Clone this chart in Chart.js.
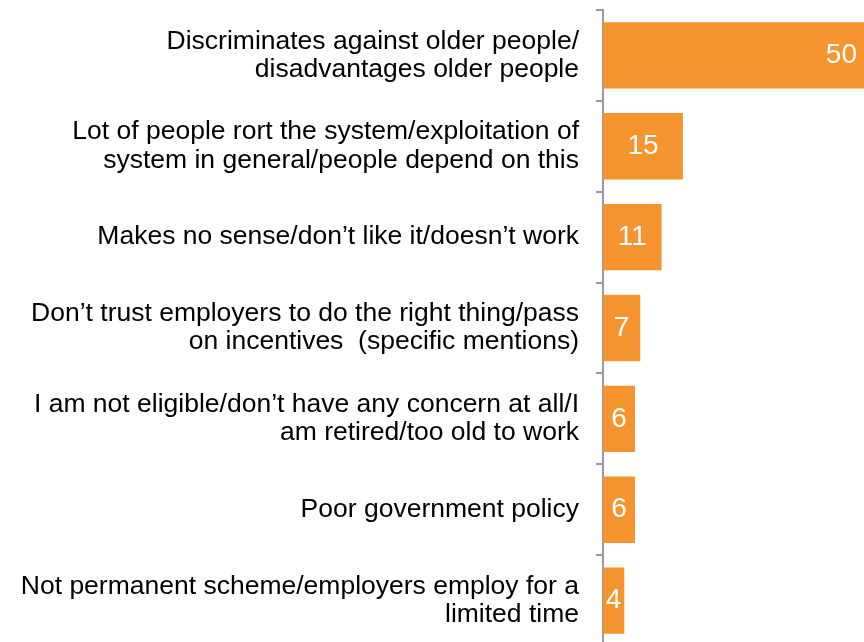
<!DOCTYPE html>
<html>
<head>
<meta charset="utf-8">
<script src="https://cdn.jsdelivr.net/npm/chart.js@4"></script>
<style>
  html, body { margin: 0; padding: 0; background: #fff; overflow: hidden; }
  #wrap { width: 864px; height: 650px; }
</style>
</head>
<body>
<div id="wrap"><canvas id="chart"></canvas></div>
<script>
// reasons given, top to bottom
const reasons = [
  ['Discriminates against older people/', 'disadvantages older people'],
  ['Lot of people rort the system/exploitation of', 'system in general/people depend on this'],
  'Makes no sense/don\u2019t like it/doesn\u2019t work',
  ['Don\u2019t trust employers to do the right thing/pass', 'on incentives  (specific mentions)'],
  ['I am not eligible/don\u2019t have any concern at all/I', 'am retired/too old to work'],
  'Poor government policy',
  ['Not permanent scheme/employers employ for a', 'limited time']
];
const percents = [50, 15, 11, 7, 6, 6, 4];

const barColor = '#F6942F';
const axisGrey = '#9a9a9a';

// white value labels inside each bar
const valueLabels = {
  id: 'valueLabels',
  afterDatasetsDraw(chart) {
    const ctx = chart.ctx;
    const area = chart.chartArea;
    const meta = chart.getDatasetMeta(0);
    ctx.save();
    ctx.fillStyle = '#fff';
    ctx.font = '28px "Liberation Sans", Arial, sans-serif';
    ctx.textBaseline = 'middle';
    meta.data.forEach((bar, i) => {
      const text = String(percents[i]);
      if (bar.x > area.right) {
        ctx.textAlign = 'right';
        ctx.fillText(text, area.right - 7, bar.y);
      } else {
        ctx.textAlign = 'center';
        ctx.fillText(text, (bar.base + bar.x) / 2, bar.y);
      }
    });
    ctx.restore();
  }
};

const config = {
  type: 'bar',
  data: {
    labels: reasons,
    datasets: [{
      data: percents,
      backgroundColor: barColor,
      borderWidth: 0,
      categoryPercentage: 1,
      barPercentage: 0.73
    }]
  },
  options: {
    indexAxis: 'y',
    responsive: true,
    maintainAspectRatio: false,
    animation: false,
    layout: { padding: { top: 10, bottom: 4, left: 0, right: 0 } },
    plugins: {
      legend: { display: false },
      tooltip: { enabled: false }
    },
    scales: {
      x: {
        display: false,
        min: 0,
        max: 49
      },
      y: {
        afterFit: scale => {
          scale.width = 603;
          scale.paddingTop = 0;
          scale.paddingBottom = 0;
        },
        border: { display: true, color: axisGrey, width: 2 },
        grid: {
          display: true,
          offset: true,
          drawOnChartArea: false,
          drawTicks: true,
          tickLength: 7,
          color: axisGrey,
          lineWidth: 2
        },
        ticks: {
          color: '#000',
          padding: 17,
          font: { family: '"Liberation Sans", Arial, sans-serif', size: 26.5, lineHeight: 1.07 }
        }
      }
    }
  },
  plugins: [valueLabels]
};

const chart = new Chart(document.getElementById('chart'), config);
</script>
</body>
</html>
